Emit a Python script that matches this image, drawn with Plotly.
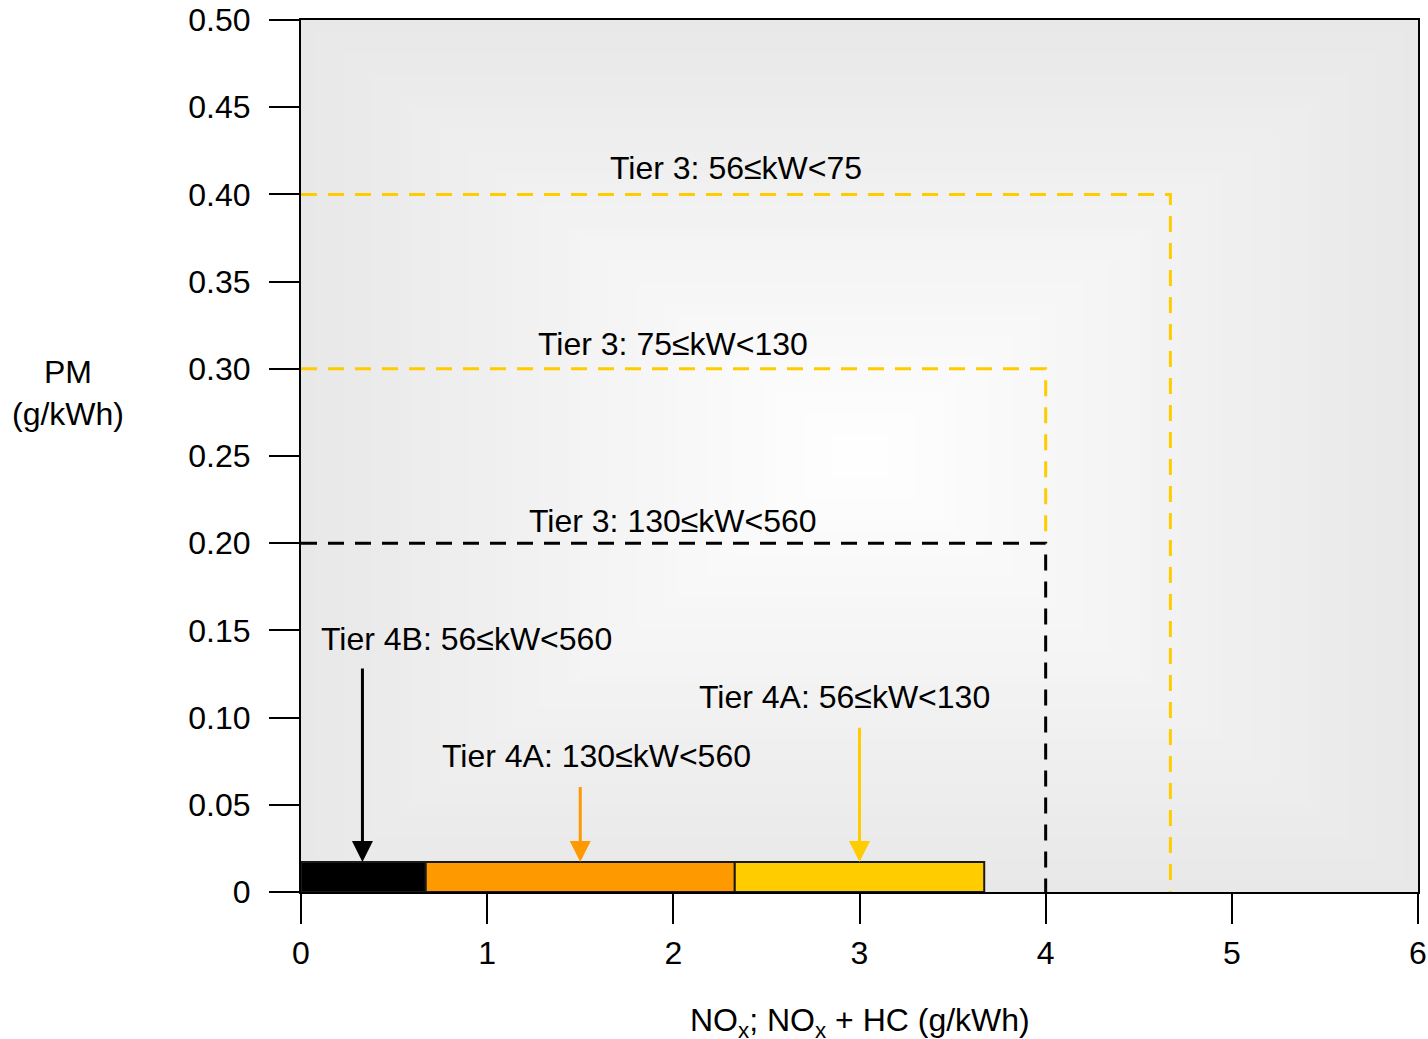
import plotly.graph_objects as go

# ---- data ----
bar_names = ["Tier 4B: 56≤kW<560", "Tier 4A: 130≤kW<560", "Tier 4A: 56≤kW<130"]
bar_start = [0.0, 0.67, 2.33]
bar_end = [0.67, 2.33, 3.67]
bar_colors = ["#000000", "#FF9900", "#FFCC00"]
bar_height = 0.0172

tier3_labels = ["Tier 3: 56≤kW<75", "Tier 3: 75≤kW<130", "Tier 3: 130≤kW<560"]
tier3_nox = [4.67, 4.0, 4.0]
tier3_pm = [0.40, 0.30, 0.20]
tier3_colors = ["#FFCC00", "#FFCC00", "#000000"]

arrow_x = [0.33, 1.5, 3.0]
arrow_top = [0.129, 0.061, 0.095]
arrow_colors = ["#000000", "#FF9900", "#FFCC00"]

label_x = [0.89, 1.585, 2.92]
label_y = [0.145, 0.078, 0.112]

tier3_label_x = [2.337, 2.0, 2.0]
tier3_label_y = [0.415, 0.314, 0.2127]

x_ticks = [0, 1, 2, 3, 4, 5, 6]
y_ticks = [0, 0.05, 0.10, 0.15, 0.20, 0.25, 0.30, 0.35, 0.40, 0.45, 0.50]
y_ticktext = ["0", "0.05", "0.10", "0.15", "0.20", "0.25", "0.30", "0.35", "0.40", "0.45", "0.50"]

X_MAX = 6
Y_MAX = 0.5
FONT = "Liberation Sans, Arial, sans-serif"
FS = 32

fig = go.Figure()

# background rectangular gradient (white centre -> light grey edges)
shapes = []
N = 40
edge = 232
cx, cy = X_MAX / 2, Y_MAX / 2
for i in range(N):
    f = 1 - i / N
    g = int(round(255 - (255 - edge) * f))
    shapes.append(dict(type="rect", xref="x", yref="y",
                       x0=cx - cx * f, x1=cx + cx * f, y0=cy - cy * f, y1=cy + cy * f,
                       fillcolor=f"rgb({g},{g},{g})", line=dict(width=0), layer="below"))

# Tier 3 dashed limit boxes
for i in range(3):
    xs = [0, tier3_nox[i], tier3_nox[i]]
    ys = [tier3_pm[i], tier3_pm[i], tier3_pm[2] if i == 1 else 0]
    fig.add_trace(go.Scatter(x=xs, y=ys, mode="lines",
                             line=dict(color=tier3_colors[i], width=3, dash="16px,11px"),
                             hoverinfo="skip", showlegend=False))

# Tier 4 bars
for n, s, e, c in zip(bar_names, bar_start, bar_end, bar_colors):
    fig.add_trace(go.Bar(y=[bar_height / 2], x=[e - s], base=[s], orientation="h",
                         width=bar_height, marker=dict(color=c, line=dict(color="#1a1a1a", width=2)),
                         name=n, showlegend=False))

annotations = []
for t, x, y in zip(tier3_labels, tier3_label_x, tier3_label_y):
    annotations.append(dict(x=x, y=y, xref="x", yref="y", text=t, showarrow=False,
                            font=dict(size=FS, color="#000000", family=FONT)))
for t, x, y in zip(bar_names, label_x, label_y):
    annotations.append(dict(x=x, y=y, xref="x", yref="y", text=t, showarrow=False,
                            font=dict(size=FS, color="#000000", family=FONT)))
for x, y, c in zip(arrow_x, arrow_top, arrow_colors):
    annotations.append(dict(x=x, y=bar_height, ax=x, ay=y, xref="x", yref="y",
                            axref="x", ayref="y", text="", showarrow=True,
                            arrowhead=2, arrowsize=1.4, arrowwidth=3, arrowcolor=c))

annotations.append(dict(x=0.5, y=(892 - 1022) / 872, xref="paper", yref="paper",
                        text="NO<sub>x</sub>; NO<sub>x</sub> + HC (g/kWh)", showarrow=False,
                        xanchor="center", yanchor="middle",
                        font=dict(size=FS, color="#000000", family=FONT)))
annotations.append(dict(x=(68 - 301) / 1117, y=(892 - 393) / 872, xref="paper", yref="paper",
                        text="PM<br>(g/kWh)", showarrow=False, xanchor="center", yanchor="middle",
                        font=dict(size=FS, color="#000000", family=FONT)))

fig.update_layout(
    width=1428, height=1039,
    margin=dict(l=301, r=10, t=20, b=147, autoexpand=False),
    paper_bgcolor="white", plot_bgcolor=f"rgb({edge},{edge},{edge})",
    shapes=shapes, annotations=annotations, barmode="overlay",
    font=dict(family=FONT, size=FS, color="#000000"),
)
fig.update_xaxes(range=[0, X_MAX], tickvals=x_ticks, ticks="outside", ticklen=30,
                 tickwidth=2, tickcolor="#000000", showline=True, linecolor="#000000",
                 linewidth=2, mirror=True, showgrid=False, zeroline=False, automargin=False,
                 ticklabelstandoff=2,
                 tickfont=dict(size=FS, family=FONT, color="#000000"))
fig.update_yaxes(range=[0, Y_MAX], tickvals=y_ticks, ticktext=y_ticktext, ticks="outside",
                 ticklen=30, tickwidth=2, tickcolor="#000000", showline=True,
                 linecolor="#000000", linewidth=2, mirror=True, showgrid=False, zeroline=False,
                 automargin=False, ticklabelstandoff=12,
                 tickfont=dict(size=FS, family=FONT, color="#000000"))

fig.write_html("out.html", config={"displayModeBar": False},
               post_script="document.body.style.margin='0';document.body.style.overflow='hidden';")
